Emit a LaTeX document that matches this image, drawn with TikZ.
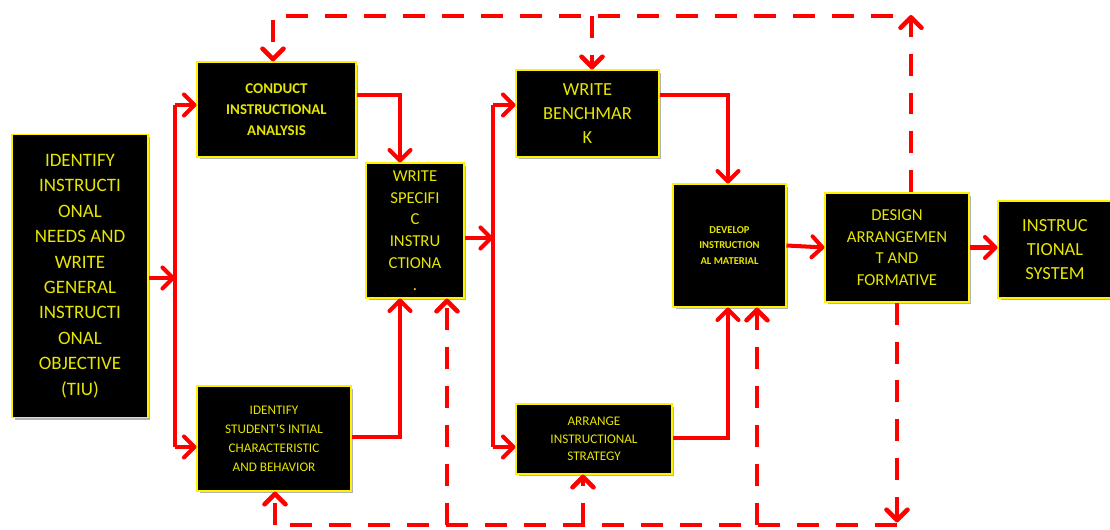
\documentclass[tikz,border=0pt]{standalone}
\usepackage{fontspec}
\setmainfont{Carlito}
\usetikzlibrary{arrows.meta,positioning,shadows}
\definecolor{boxtext}{RGB}{230,230,0}
\definecolor{flowred}{RGB}{255,0,0}
\tikzset
{
	stagenode/.style = {rectangle, draw=yellow, fill=black, text=boxtext, align=center, inner sep=1pt, line width=0.6pt, drop shadow={shadow xshift=0.05cm, shadow yshift=-0.05cm, fill=black!50, opacity=0.6}},
	flowline/.style  = {draw=flowred, line width=2.3pt},
	flowarrow/.style = {flowline, -{Straight Barb[round, length=0.21cm, width=0.42cm]}},
	backline/.style  = {draw=flowred, line width=2.6pt, dash pattern=on 0.44cm off 0.34cm},
	backarrow/.style = {backline, -{Straight Barb[round, length=0.21cm, width=0.42cm]}}
}

\begin{document}
\begin{tikzpicture}[x=0.02cm, y=-0.02cm]
\useasboundingbox (0,0) rectangle (1110,530);

% stages
\node[stagenode, minimum width=2.72cm, minimum height=5.66cm, font=\fontsize{10.8}{14.5}\selectfont] (tiu) at (80,276)
	{IDENTIFY\\INSTRUCTI\\ONAL\\NEEDS AND\\WRITE\\GENERAL\\INSTRUCTI\\ONAL\\OBJECTIVE\\(TIU)};
\node[stagenode, minimum width=3.18cm, minimum height=1.9cm, font=\fontsize{8.5}{12}\selectfont\bfseries] (conduct) at (276.5,109.5)
	{CONDUCT\\INSTRUCTIONAL\\ANALYSIS};
\node[stagenode, minimum width=3.08cm, minimum height=2.1cm, font=\fontsize{7.5}{10.8}\selectfont] (student) at (274,438.5)
	{IDENTIFY\\STUDENT'S INTIAL\\CHARACTERISTIC\\AND BEHAVIOR};
\node[stagenode, minimum width=1.96cm, minimum height=2.7cm, font=\fontsize{9.5}{12.4}\selectfont] (specific) at (415,230.5)
	{WRITE\\SPECIFI\\C\\INSTRU\\CTIONA\\.};
\node[stagenode, minimum width=2.86cm, minimum height=1.74cm, font=\fontsize{10.5}{13.6}\selectfont] (benchmark) at (587.5,113.5)
	{WRITE\\BENCHMAR\\K};
\node[stagenode, minimum width=3.12cm, minimum height=1.4cm, font=\fontsize{7.5}{10}\selectfont] (arrange) at (594,439)
	{ARRANGE\\INSTRUCTIONAL\\STRATEGY};
\node[stagenode, minimum width=2.26cm, minimum height=2.46cm, font=\fontsize{6}{8.9}\selectfont\bfseries] (develop) at (729.5,245.5)
	{DEVELOP\\INSTRUCTION\\AL MATERIAL};
\node[stagenode, minimum width=2.88cm, minimum height=2.18cm, font=\fontsize{9.5}{12.3}\selectfont] (design) at (897,247.5)
	{DESIGN\\ARRANGEMEN\\T AND\\FORMATIVE};
\node[stagenode, minimum width=2.28cm, minimum height=1.94cm, font=\fontsize{10.5}{13.7}\selectfont] (system) at (1055,249.5)
	{INSTRUC\\TIONAL\\SYSTEM};

% first split
\coordinate (splitA) at (175,278);
\coordinate (splitAtop) at (175,105);
\coordinate (splitAbot) at (175,447);
\draw[flowarrow] (splitA -| tiu.east) -- (splitA);
\draw[flowline] (splitAtop) -- (splitAbot);
\draw[flowarrow] (splitAtop) -- (splitAtop -| conduct.west);
\draw[flowarrow] (splitAbot) -- (splitAbot -| student.west);

% into specific objectives
\coordinate (bendA) at (400,95);
\coordinate (bendB) at (400,437);
\draw[flowarrow] (bendA -| conduct.east) -- (bendA) -- (bendA |- specific.north);
\draw[flowarrow] (bendB -| student.east) -- (bendB) -- (bendB |- specific.south);

% second split
\coordinate (splitB) at (493,238);
\coordinate (splitBtop) at (493,105);
\coordinate (splitBbot) at (493,447);
\draw[flowarrow] (splitB -| specific.east) -- (splitB);
\draw[flowline] (splitBtop) -- (splitBbot);
\draw[flowarrow] (splitBtop) -- (splitBtop -| benchmark.west);
\draw[flowarrow] (splitBbot) -- (splitBbot -| arrange.west);

% into material
\coordinate (bendC) at (728,95);
\coordinate (bendD) at (728,438);
\draw[flowarrow] (bendC -| benchmark.east) -- (bendC) -- (bendC |- develop.north);
\draw[flowarrow] (bendD -| arrange.east) -- (bendD) -- (bendD |- develop.south);

\draw[flowarrow] (develop.east) -- (design.west);
\draw[flowarrow] (design.east) -- (design.east -| system.west);

% revision loop, top
\coordinate (topR) at (911,16);
\coordinate (topA) at (273,16);
\coordinate (topB) at (592,16);
\draw[backarrow] (topR |- design.north) -- ([yshift=0.02cm]topR);
\draw[backarrow] ([xshift=-0.36cm]topR) -- (topA) -- (topA |- conduct.north);
\draw[backarrow] (topB) -- (topB |- benchmark.north);

% revision loop, bottom
\coordinate (botR) at (897,525);
\coordinate (botA) at (275,525);
\coordinate (botB) at (447,525);
\coordinate (botC) at (583,525);
\coordinate (botD) at (757,525);
\draw[backarrow] (botR |- design.south) -- ([yshift=0.05cm]botR);
\draw[backline] (botR) -- (botA);
\draw[backarrow] (botA) -- (botA |- student.south);
\draw[backarrow] (botB) -- (botB |- specific.south);
\draw[backarrow] (botC) -- (botC |- arrange.south);
\draw[backarrow] (botD) -- (botD |- develop.south);
\end{tikzpicture}
\end{document}
